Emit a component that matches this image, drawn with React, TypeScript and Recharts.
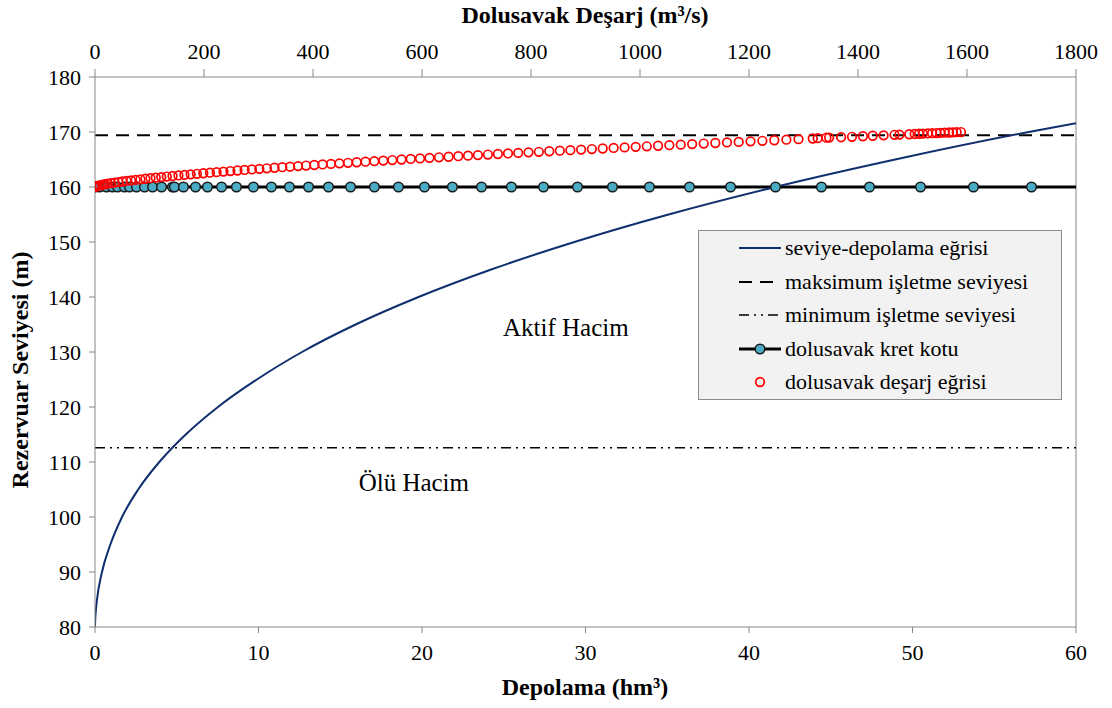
import React from "react";
import {
  ComposedChart,
  Line,
  Scatter,
  XAxis,
  YAxis,
  ReferenceLine,
  ReferenceDot,
} from "recharts";

const FONT = "Liberation Serif, Tinos, DejaVu Serif, serif";
const AXIS_GREY = "#868686";

// seviye-depolama eğrisi (depolama hm3, seviye m)
const curveStorage = [
  0, 0.009, 0.038, 0.123, 0.428, 0.94, 1.654, 2.643, 3.933, 4.73, 5.55, 7.52,
  9.9, 12.66, 15.94, 19.79, 24.23, 29.32, 35.08, 41.6, 48.94, 57.11, 60,
];
const curveLevel = [
  80, 81, 82.5, 85, 90, 95, 100, 105, 110, 112.6, 115, 120, 125, 130, 135, 140,
  145, 150, 155, 160, 165, 170, 171.6,
];

const maxOperatingLevel = 169.4;
const minOperatingLevel = 112.6;
const crestLevel = 160;

// kret kotu boyunca işaretlenen depolama değerleri
const crestStorage = [
  0, 0.28, 0.7, 1.07, 1.38, 1.8, 2.11, 2.54, 3.03, 3.52, 4.07, 4.74, 4.86,
  5.41, 6.15, 6.88, 7.74, 8.65, 9.69, 10.79, 11.89, 13.06, 14.28, 15.63, 17.09,
  18.56, 20.15, 21.86, 23.64, 25.47, 27.43, 29.51, 31.65, 33.91, 36.36, 38.87,
  41.62, 44.43, 47.37, 50.49, 53.73, 57.28, 60,
];

// dolusavak deşarj eğrisi (deşarj m3/s, seviye m)
const spillFlow = [
  0, 1.6, 4.5, 8.3, 12.7, 17.8, 23.4, 29.5, 36.0, 42.9, 50.3, 58.0, 66.1, 74.6,
  83.3, 92.4, 101.8, 111.5, 121.5, 131.7, 142.3, 153.1, 164.1, 175.5, 187.0,
  198.8, 210.9, 223.2, 235.7, 248.4, 261.4, 274.5, 287.9, 301.5, 315.3, 329.4,
  343.6, 358.0, 372.6, 387.4, 402.4, 417.6, 433.0, 448.5, 464.2, 480.2, 496.3,
  512.5, 529.0, 545.6, 562.4, 579.3, 596.4, 613.7, 631.2, 648.8, 666.6, 684.5,
  702.6, 720.9, 739.3, 757.8, 776.5, 795.4, 814.4, 833.6, 852.9, 872.3, 891.9,
  911.7, 931.6, 951.6, 971.8, 992.1, 1012.5, 1033.1, 1053.9, 1074.8, 1095.7,
  1116.9, 1138.2, 1159.6, 1181.1, 1202.8, 1224.6, 1246.5, 1268.6, 1290.8, 1317,
  1326, 1342, 1347, 1369, 1389, 1409, 1427, 1447, 1467, 1476, 1494, 1504, 1512,
  1519, 1528, 1536, 1544, 1551, 1559, 1567, 1574, 1581, 1589,
];
const spillLevel = [
  160, 160.1, 160.2, 160.3, 160.4, 160.5, 160.6, 160.7, 160.8, 160.9, 161,
  161.1, 161.2, 161.3, 161.4, 161.5, 161.6, 161.7, 161.8, 161.9, 162, 162.1,
  162.2, 162.3, 162.4, 162.5, 162.6, 162.7, 162.8, 162.9, 163, 163.1, 163.2,
  163.3, 163.4, 163.5, 163.6, 163.7, 163.8, 163.9, 164, 164.1, 164.2, 164.3,
  164.4, 164.5, 164.6, 164.7, 164.8, 164.9, 165, 165.1, 165.2, 165.3, 165.4,
  165.5, 165.6, 165.7, 165.8, 165.9, 166, 166.1, 166.2, 166.3, 166.4, 166.5,
  166.6, 166.7, 166.8, 166.9, 167, 167.1, 167.2, 167.3, 167.4, 167.5, 167.6,
  167.7, 167.8, 167.9, 168, 168.1, 168.2, 168.3, 168.4, 168.5, 168.6, 168.7,
  168.82, 168.88, 168.96, 168.99, 169.05, 169.13, 169.23, 169.32, 169.39,
  169.49, 169.53, 169.59, 169.64, 169.68, 169.71, 169.74, 169.78, 169.81,
  169.84, 169.87, 169.91, 169.94, 169.96, 169.99,
];

const storageTicks = [0, 10, 20, 30, 40, 50, 60];
const dischargeTicks = [0, 200, 400, 600, 800, 1000, 1200, 1400, 1600, 1800];
const levelTicks = [80, 90, 100, 110, 120, 130, 140, 150, 160, 170, 180];

const curveData = curveStorage.map((s, i) => ({ storage: s, level: curveLevel[i] }));
const crestData = crestStorage.map((s) => ({ storage: s, level: crestLevel }));
const maxData = [
  { storage: 0, level: maxOperatingLevel },
  { storage: 60, level: maxOperatingLevel },
];
const minData = [
  { storage: 0, level: minOperatingLevel },
  { storage: 60, level: minOperatingLevel },
];
const spillData = spillFlow.map((q, i) => ({ discharge: q, level: spillLevel[i] }));

const tickStyle = { fill: "#000", fontSize: 22, fontFamily: FONT };

const CrestDot = (props: any) => {
  const { cx, cy, index } = props;
  if (index === crestData.length - 1) return <g key={`c-${index}`} />;
  return (
    <circle
      key={`c-${index}`}
      cx={cx}
      cy={cy}
      r={4.8}
      fill="#4bacc6"
      stroke="#1a1a1a"
      strokeWidth={1.5}
    />
  );
};

const HollowCircle = (props: any) => (
  <circle cx={props.cx} cy={props.cy} r={4.3} fill="none" stroke="#ff0000" strokeWidth={1.7} />
);

const legendRows = [
  { label: "seviye-depolama eğrisi", kind: "curve" },
  { label: "maksimum işletme seviyesi", kind: "max" },
  { label: "minimum işletme seviyesi", kind: "min" },
  { label: "dolusavak kret kotu", kind: "crest" },
  { label: "dolusavak deşarj eğrisi", kind: "spill" },
];

function Swatch({ kind }: { kind: string }) {
  return (
    <svg width={42} height={14} style={{ display: "block" }}>
      {kind === "curve" && <line x1={0} y1={7} x2={42} y2={7} stroke="#102f6e" strokeWidth={2} />}
      {kind === "max" && (
        <line x1={0} y1={7} x2={42} y2={7} stroke="#000" strokeWidth={2} strokeDasharray="13 8" />
      )}
      {kind === "min" && (
        <line x1={0} y1={7} x2={42} y2={7} stroke="#000" strokeWidth={1.5} strokeDasharray="10 5 2 5 2 5" />
      )}
      {kind === "crest" && (
        <>
          <line x1={0} y1={7} x2={42} y2={7} stroke="#000" strokeWidth={3} />
          <circle cx={21} cy={7} r={4.8} fill="#4bacc6" stroke="#1a1a1a" strokeWidth={1.5} />
        </>
      )}
      {kind === "spill" && (
        <circle cx={21} cy={7} r={4.3} fill="none" stroke="#ff0000" strokeWidth={1.7} />
      )}
    </svg>
  );
}

function Legend() {
  return (
    <div
      style={{
        position: "absolute",
        left: 698,
        top: 230,
        width: 362,
        height: 168,
        background: "#f2f2f2",
        border: "1.5px solid #8c8c8c",
        fontFamily: FONT,
        fontSize: 22,
        color: "#000",
      }}
    >
      {legendRows.map((row, i) => (
        <div
          key={row.label}
          style={{
            position: "absolute",
            left: 40,
            top: 3 + i * 33.6,
            height: 28,
            display: "flex",
            alignItems: "center",
            whiteSpace: "nowrap",
          }}
        >
          <Swatch kind={row.kind} />
          <span style={{ marginLeft: 4 }}>{row.label}</span>
        </div>
      ))}
    </div>
  );
}

export default function App() {
  return (
    <div
      style={{
        position: "absolute",
        left: 0,
        top: 0,
        width: 1112,
        height: 708,
        background: "#fff",
        fontFamily: FONT,
      }}
    >
      <ComposedChart
        width={1112}
        height={708}
        margin={{ top: 27, right: 36, bottom: 21, left: 0 }}
        style={{ fontFamily: FONT }}
      >
        <XAxis
          xAxisId="storage"
          dataKey="storage"
          type="number"
          domain={[0, 60]}
          ticks={storageTicks}
          orientation="bottom"
          height={60}
          tickSize={6}
          tickMargin={11}
          stroke={AXIS_GREY}
          tick={tickStyle}
          allowDataOverflow
        />
        <XAxis
          xAxisId="discharge"
          dataKey="discharge"
          type="number"
          domain={[0, 1800]}
          ticks={dischargeTicks}
          orientation="top"
          height={50}
          tickSize={8}
          tickMargin={10}
          stroke={AXIS_GREY}
          tick={tickStyle}
          allowDataOverflow
        />
        <YAxis
          dataKey="level"
          type="number"
          domain={[80, 180]}
          ticks={levelTicks}
          width={95}
          tickSize={6}
          tickMargin={8}
          stroke={AXIS_GREY}
          tick={tickStyle}
          allowDataOverflow
        />
        <ReferenceLine xAxisId="storage" x={60} stroke={AXIS_GREY} strokeWidth={1} />
        <Line
          xAxisId="storage"
          data={minData}
          dataKey="level"
          stroke="#000"
          strokeWidth={1.5}
          strokeDasharray="10 5 2 5 2 5"
          dot={false}
          isAnimationActive={false}
        />
        <Line
          xAxisId="storage"
          data={maxData}
          dataKey="level"
          stroke="#000"
          strokeWidth={2}
          strokeDasharray="13 8"
          dot={false}
          isAnimationActive={false}
        />
        <Line
          xAxisId="storage"
          data={crestData}
          dataKey="level"
          stroke="#000"
          strokeWidth={3}
          dot={CrestDot}
          isAnimationActive={false}
        />
        <Line
          xAxisId="storage"
          data={curveData}
          dataKey="level"
          type="monotone"
          stroke="#102f6e"
          strokeWidth={2}
          dot={false}
          isAnimationActive={false}
        />
        <Scatter
          xAxisId="discharge"
          data={spillData}
          dataKey="level"
          shape={HollowCircle}
          isAnimationActive={false}
        />
        <ReferenceDot
          xAxisId="storage"
          x={28.8}
          y={134.6}
          r={0}
          label={{ value: "Aktif Hacim", position: "center", fill: "#000", fontSize: 25, fontFamily: FONT }}
        />
        <ReferenceDot
          xAxisId="storage"
          x={19.5}
          y={106.3}
          r={0}
          label={{ value: "Ölü Hacim", position: "center", fill: "#000", fontSize: 25, fontFamily: FONT }}
        />
      </ComposedChart>

      <div
        style={{
          position: "absolute",
          left: 0,
          width: 1170,
          top: 2,
          textAlign: "center",
          fontWeight: "bold",
          fontSize: 24,
        }}
      >
        Dolusavak Deşarj (m³/s)
      </div>
      <div
        style={{
          position: "absolute",
          left: 0,
          width: 1170,
          top: 674,
          textAlign: "center",
          fontWeight: "bold",
          fontSize: 24,
        }}
      >
        Depolama (hm³)
      </div>
      <div
        style={{
          position: "absolute",
          left: 20,
          top: 370,
          transform: "translate(-50%, -50%) rotate(-90deg)",
          fontWeight: "bold",
          fontSize: 24,
          whiteSpace: "nowrap",
        }}
      >
        Rezervuar Seviyesi (m)
      </div>
      <Legend />
    </div>
  );
}
